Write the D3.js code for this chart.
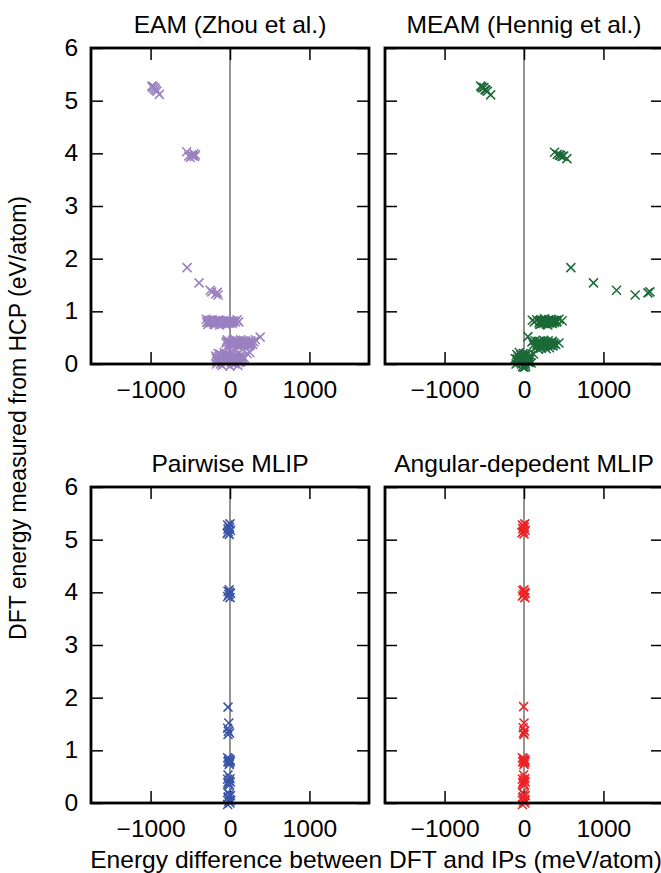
<!DOCTYPE html>
<html>
<head>
<meta charset="utf-8">
<script src="https://cdn.jsdelivr.net/npm/d3@7"></script>
<style>
  body { margin: 0; background: #fff; }
  svg text { font-family: "Liberation Sans", Arial, Helvetica, sans-serif; fill: #000; }
</style>
</head>
<body>
<div id="chart"></div>
<script>
const w = 661;
const h = 873;
// the source figure's lettering is a touch wider than Liberation Sans
const stretch = 1.07;

// x tick values and labels (meV/atom)
const xTicks = [-1000, 0, 1000];
const xTickLabels = ['\u22121000', '0', '1000'];
const yTicks = [0, 1, 2, 3, 4, 5, 6];

const titles = ['EAM (Zhou et al.)', 'MEAM (Hennig et al.)', 'Pairwise MLIP', 'Angular-depedent MLIP'];
const colors = ['#9b80c0', '#1b6a38', '#3a54a6', '#ec2227'];

// [energy difference (meV/atom), DFT energy (eV/atom)]
const eamData = [
  [-985, 5.28], [-975, 5.25], [-965, 5.27], [-955, 5.22], [-945, 5.24], [-935, 5.2], [-920, 5.18], [-890, 5.12],
  [-545, 4.03], [-520, 3.95], [-500, 3.92], [-485, 3.97], [-470, 3.95], [-455, 3.99], [-445, 3.94], [-435, 3.97],
  [-540, 1.83], [-390, 1.54], [-250, 1.4], [-230, 1.37], [-180, 1.33], [-160, 1.36], [-150, 1.31],
  [-300, 0.85], [-285, 0.8], [-270, 0.83], [-255, 0.78], [-240, 0.81], [-225, 0.84], [-210, 0.79], [-195, 0.82],
  [-180, 0.77], [-165, 0.8], [-150, 0.83], [-135, 0.78], [-120, 0.81], [-105, 0.79], [-90, 0.82], [-75, 0.77],
  [-60, 0.8], [-45, 0.83], [-30, 0.78], [-15, 0.81], [0, 0.79], [15, 0.8], [30, 0.77], [45, 0.82], [70, 0.8],
  [90, 0.84], [110, 0.8], [-280, 0.75], [-200, 0.75], [-130, 0.74], [-50, 0.75],
  [-292, 0.79], [-262, 0.81], [-232, 0.79], [-202, 0.8], [-172, 0.82], [-142, 0.8], [-112, 0.77], [-82, 0.8],
  [-52, 0.79], [-22, 0.8], [8, 0.82], [38, 0.8], [-248, 0.83], [-188, 0.79], [-128, 0.83], [-68, 0.81], [-8, 0.77],
  [-50, 0.4], [-35, 0.46], [-20, 0.36], [0, 0.42], [15, 0.38], [30, 0.45], [45, 0.35], [60, 0.41], [75, 0.37],
  [90, 0.44], [105, 0.34], [120, 0.4], [135, 0.46], [150, 0.37], [165, 0.42], [180, 0.35], [195, 0.44],
  [210, 0.39], [225, 0.36], [240, 0.43], [255, 0.38], [270, 0.41], [300, 0.42], [380, 0.51], [320, 0.46],
  [-42, 0.43], [-12, 0.41], [22, 0.4], [52, 0.43], [82, 0.39], [112, 0.42], [142, 0.39], [172, 0.4], [202, 0.41],
  [232, 0.4], [262, 0.44], [285, 0.37], [8, 0.37], [68, 0.45], [128, 0.36], [188, 0.38], [248, 0.35],
  [-180, 0.15], [-165, 0.05], [-150, 0.2], [-135, 0.1], [-120, 0.0], [-105, 0.17], [-90, 0.07], [-75, 0.22],
  [-60, 0.12], [-45, 0.02], [-30, 0.18], [-15, 0.08], [0, 0.14], [15, 0.03], [30, 0.2], [45, 0.1], [60, 0.0],
  [75, 0.16], [90, 0.06], [105, 0.19], [120, 0.11], [135, 0.04], [150, 0.15], [165, 0.08], [180, 0.12],
  [215, 0.2], [250, 0.22], [-170, 0.0], [-100, -0.03], [0, -0.04], [100, -0.03], [-60, 0.05], [60, 0.12],
  [-172, 0.1], [-142, 0.14], [-112, 0.08], [-82, 0.13], [-52, 0.09], [-22, 0.13], [8, 0.08], [38, 0.14],
  [68, 0.07], [98, 0.12], [128, 0.16], [158, 0.1], [-128, 0.19], [-68, 0.17], [-8, 0.19], [52, 0.17],
  [112, 0.03], [-38, 0.06]
];

const meamData = [
  [-545, 5.28], [-535, 5.26], [-520, 5.24], [-505, 5.25], [-490, 5.21], [-480, 5.2], [-460, 5.18], [-420, 5.11],
  [385, 4.02], [420, 3.98], [445, 3.97], [460, 3.96], [480, 3.94], [500, 3.95], [540, 3.9],
  [590, 1.83], [875, 1.54], [1165, 1.4], [1400, 1.31], [1560, 1.35], [1585, 1.37],
  [105, 0.83], [130, 0.8], [160, 0.84], [190, 0.78], [205, 0.81], [220, 0.77], [235, 0.83], [250, 0.79],
  [265, 0.82], [280, 0.76], [295, 0.8], [310, 0.84], [325, 0.78], [340, 0.81], [355, 0.77], [370, 0.83],
  [385, 0.79], [400, 0.82], [415, 0.8], [440, 0.85], [480, 0.82], [200, 0.75], [300, 0.74], [260, 0.86],
  [198, 0.81], [228, 0.8], [258, 0.8], [288, 0.82], [318, 0.8], [348, 0.79], [378, 0.81], [408, 0.83],
  [243, 0.77], [303, 0.78], [363, 0.8], [213, 0.84], [273, 0.79], [333, 0.84],
  [50, 0.52], [100, 0.42], [120, 0.36], [140, 0.44], [155, 0.32], [170, 0.4], [185, 0.35], [200, 0.43],
  [215, 0.3], [230, 0.38], [245, 0.45], [260, 0.33], [275, 0.41], [290, 0.36], [305, 0.44], [320, 0.31],
  [335, 0.39], [350, 0.42], [365, 0.34], [380, 0.4], [400, 0.37], [440, 0.4], [180, 0.28], [280, 0.29],
  [162, 0.37], [192, 0.39], [222, 0.41], [252, 0.39], [282, 0.38], [312, 0.4], [342, 0.36], [372, 0.38],
  [177, 0.43], [237, 0.34], [297, 0.4], [357, 0.43], [207, 0.35], [267, 0.37], [327, 0.35],
  [-110, 0.1], [-90, 0.18], [-80, 0.03], [-70, 0.14], [-60, 0.22], [-50, 0.07], [-40, 0.16], [-30, 0.0],
  [-20, 0.12], [-10, 0.2], [0, 0.05], [10, 0.15], [20, 0.0], [30, 0.1], [40, 0.18], [50, 0.04], [60, 0.13],
  [70, 0.08], [85, 0.16], [120, 0.19], [-20, -0.05], [20, -0.05], [0, -0.06], [-100, 0.0], [90, 0.02],
  [-85, 0.1], [-55, 0.12], [-25, 0.08], [5, 0.12], [35, 0.06], [65, 0.03], [-45, 0.03], [15, 0.19],
  [-15, 0.16], [45, 0.12], [-75, 0.07], [25, 0.05]
];

const pairData = [
  [-30, 5.28], [-15, 5.25], [0, 5.3], [-25, 5.2], [-5, 5.22], [-20, 5.15], [5, 5.18], [-10, 5.1], [-35, 5.12],
  [-25, 4.02], [-5, 4.0], [-15, 3.96], [5, 3.98], [-30, 3.92], [0, 3.9], [-10, 4.05],
  [-25, 1.82], [-15, 1.52], [-30, 1.42], [-20, 1.36], [-5, 1.33], [-25, 1.3],
  [-30, 0.86], [-15, 0.84], [0, 0.82], [-25, 0.78], [-5, 0.76], [-20, 0.8], [5, 0.79], [-10, 0.73],
  [-25, 0.53],
  [-30, 0.45], [-10, 0.42], [5, 0.4], [-20, 0.36], [-5, 0.34], [-25, 0.39], [0, 0.46],
  [-30, 0.2], [-10, 0.17], [5, 0.14], [-25, 0.1], [-5, 0.07], [-15, 0.03], [0, 0.0], [-30, -0.03], [10, 0.05], [-20, 0.12]
];

const angData = [
  [-20, 5.28], [-5, 5.26], [10, 5.3], [-15, 5.21], [5, 5.23], [-10, 5.16], [15, 5.18], [0, 5.11], [-25, 5.13],
  [-15, 4.03], [5, 4.0], [-5, 3.96], [15, 3.98], [-20, 3.93], [10, 3.9], [0, 4.05],
  [-5, 1.83], [0, 1.52], [-10, 1.43], [5, 1.37], [-5, 1.33], [0, 1.3],
  [-20, 0.86], [-5, 0.84], [10, 0.82], [-15, 0.78], [5, 0.76], [-10, 0.8], [15, 0.79], [0, 0.73],
  [-5, 0.53],
  [-20, 0.45], [0, 0.42], [15, 0.4], [-10, 0.36], [5, 0.34], [-15, 0.39], [10, 0.46],
  [-20, 0.2], [0, 0.17], [15, 0.14], [-15, 0.1], [5, 0.07], [-5, 0.03], [10, 0.0], [-20, -0.03], [15, 0.05], [-10, 0.12]
];

const datasets = [eamData, meamData, pairData, angData];

// panel boxes: [left, top]
const pw = 278;
const ph = 316;
const panels = [[91, 48], [385, 48], [91, 487], [385, 487]];

const svg = d3.select('#chart')
  .append('svg')
  .attr('width', w)
  .attr('height', h);

const xScale = d3.scaleLinear().domain([-1750, 1750]).range([0, pw]);
const yScale = d3.scaleLinear().domain([0, 6]).range([ph, 0]);

panels.forEach(([px, py], i) => {
  const g = svg.append('g').attr('transform', `translate(${px},${py})`);

  // zero line
  g.append('line')
    .attr('x1', xScale(0)).attr('x2', xScale(0))
    .attr('y1', 0).attr('y2', ph)
    .attr('stroke', '#666')
    .attr('stroke-width', 1.4);

  const bottomAxis = d3.axisBottom(xScale)
    .tickValues(xTicks)
    .tickSizeInner(-12)
    .tickSizeOuter(0)
    .tickPadding(18)
    .tickFormat((d, j) => xTickLabels[j]);
  const topAxis = d3.axisTop(xScale)
    .tickValues(xTicks)
    .tickSizeInner(-12)
    .tickSizeOuter(0)
    .tickFormat('');
  const leftAxis = d3.axisLeft(yScale)
    .tickValues(yTicks)
    .tickSizeInner(-12)
    .tickSizeOuter(0)
    .tickPadding(12)
    .tickFormat(i % 2 === 0 ? d3.format('d') : '');
  const rightAxis = d3.axisRight(yScale)
    .tickValues(yTicks)
    .tickSizeInner(-12)
    .tickSizeOuter(0)
    .tickFormat('');

  const axes = [
    g.append('g').attr('transform', `translate(0,${ph})`).call(bottomAxis),
    g.append('g').call(topAxis),
    g.append('g').call(leftAxis),
    g.append('g').attr('transform', `translate(${pw},0)`).call(rightAxis)
  ];
  axes.forEach((a) => {
    a.select('.domain').remove();
    a.selectAll('.tick line').attr('stroke', '#000').attr('stroke-width', 1.5);
    a.selectAll('.tick text')
      .attr('font-size', 23)
      .attr('font-family', '"Liberation Sans", Arial, sans-serif')
      .attr('fill', '#000')
      .attr('transform', `scale(${stretch},1)`);
  });

  // points
  g.append('g')
    .selectAll('path')
    .data(datasets[i])
    .enter()
    .append('path')
    .attr('transform', (d) => `translate(${xScale(d[0])},${yScale(d[1])})`)
    .attr('d', 'M-4.5,-4.5L4.5,4.5M4.5,-4.5L-4.5,4.5')
    .attr('fill', 'none')
    .attr('stroke', colors[i])
    .attr('stroke-width', 1.5);

  // frame
  g.append('rect')
    .attr('width', pw)
    .attr('height', ph)
    .attr('fill', 'none')
    .attr('stroke', '#000')
    .attr('stroke-width', 2.8);

  // title
  g.append('text')
    .attr('transform', `translate(${pw / 2},-15) scale(${stretch},1)`)
    .attr('text-anchor', 'middle')
    .attr('font-size', 23)
    .text(titles[i]);
});

svg.append('text')
  .attr('transform', 'translate(26,418) rotate(-90)')
  .attr('text-anchor', 'middle')
  .attr('font-size', 23)
  .text('DFT energy measured from HCP (eV/atom)');

svg.append('text')
  .attr('transform', `translate(376,868) scale(${stretch},1)`)
  .attr('text-anchor', 'middle')
  .attr('font-size', 23)
  .text('Energy difference between DFT and IPs (meV/atom)');
</script>
</body>
</html>
